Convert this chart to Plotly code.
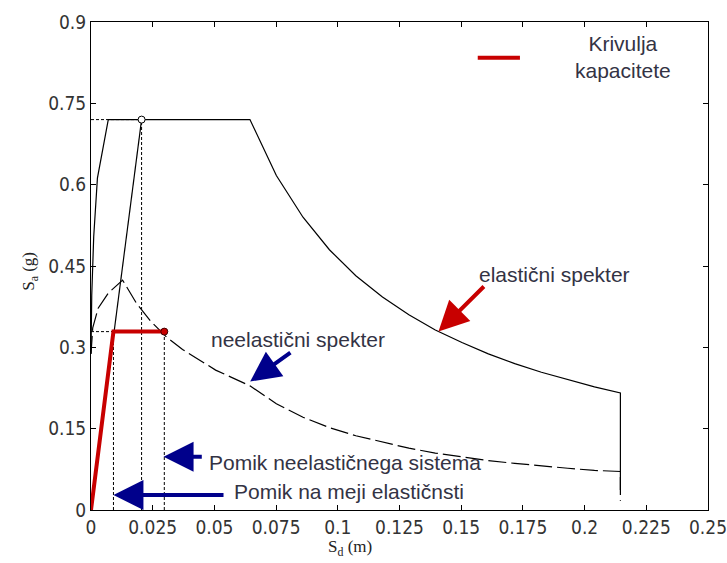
import plotly.graph_objects as go

# Elastic spectrum (ADRS)
el_sd = [0.0, 0.0003, 0.0011, 0.0026, 0.0070, 0.0644, 0.0751, 0.0859, 0.0966, 0.1073,
         0.1181, 0.1288, 0.1395, 0.1503, 0.1610, 0.1717, 0.1825, 0.1932, 0.2040, 0.2145, 0.2145]
el_sa = [0.288, 0.396, 0.504, 0.612, 0.720, 0.720, 0.617, 0.540, 0.480, 0.432,
         0.393, 0.360, 0.332, 0.309, 0.288, 0.270, 0.254, 0.240, 0.227, 0.216, 0.037]

# Inelastic spectrum (dashed)
in_sd = [0.0, 0.0007, 0.0029, 0.0070, 0.0128, 0.0186, 0.0244, 0.0306, 0.0371, 0.0505, 0.0644,
         0.0751, 0.0859, 0.0966, 0.1073, 0.1181, 0.1288, 0.1395, 0.1503, 0.1610, 0.1717,
         0.1825, 0.1932, 0.2040, 0.2145, 0.2145]
in_sa = [0.288, 0.336, 0.372, 0.400, 0.424, 0.380, 0.347, 0.319, 0.296, 0.258, 0.229,
         0.196, 0.171, 0.152, 0.137, 0.125, 0.114, 0.105, 0.098, 0.091, 0.086,
         0.081, 0.077, 0.073, 0.071, 0.017]

# Capacity curve (bilinear)
cap_sd = [0.0, 0.0091, 0.0297]
cap_sa = [0.0, 0.329, 0.329]

# Elastic period line
per_sd = [0.0, 0.0205]
per_sa = [0.0, 0.720]

# Dotted guide lines
guide_sd = [0.0, 0.0205, None, 0.0, 0.0091, None, 0.0091, 0.0091, None,
            0.0205, 0.0205, None, 0.0297, 0.0297]
guide_sa = [0.720, 0.720, None, 0.329, 0.329, None, 0.0, 0.329, None,
            0.0, 0.720, None, 0.0, 0.329]

x_ticks = [0, 0.025, 0.05, 0.075, 0.1, 0.125, 0.15, 0.175, 0.2, 0.225, 0.25]
x_labels = ["0", "0.025", "0.05", "0.075", "0.1", "0.125", "0.15", "0.175", "0.2", "0.225", "0.25"]
y_ticks = [0, 0.15, 0.3, 0.45, 0.6, 0.75, 0.9]
y_labels = ["0", "0.15", "0.3", "0.45", "0.6", "0.75", "0.9"]

RED = "#c80000"
NAVY = "#00008b"
TXT = "#333344"
TICKFONT = dict(family="Liberation Sans Narrow, Arial Narrow, DejaVu Sans Condensed, Liberation Sans",
                size=19, color="#333333")
ANN_FONT = dict(family="Liberation Sans, Arial, sans-serif", size=21, color=TXT)
TITLE_FONT = dict(family="Liberation Serif, Times New Roman, serif", size=17, color="#222222")

fig = go.Figure()
fig.add_trace(go.Scatter(x=guide_sd, y=guide_sa, mode="lines",
                         line=dict(color="black", width=1, dash="3px,2px"), hoverinfo="skip"))
fig.add_trace(go.Scatter(x=el_sd, y=el_sa, mode="lines",
                         line=dict(color="black", width=1.2)))
fig.add_trace(go.Scatter(x=in_sd, y=in_sa, mode="lines",
                         line=dict(color="black", width=1.2, dash="18px,5px")))
fig.add_trace(go.Scatter(x=per_sd, y=per_sa, mode="lines",
                         line=dict(color="black", width=1.2)))
fig.add_trace(go.Scatter(x=cap_sd, y=cap_sa, mode="lines",
                         line=dict(color=RED, width=4)))
fig.add_trace(go.Scatter(x=[per_sd[1]], y=[per_sa[1]], mode="markers",
                         marker=dict(symbol="circle", size=7, color="white",
                                     line=dict(color="black", width=1))))
fig.add_trace(go.Scatter(x=[cap_sd[2]], y=[cap_sa[2]], mode="markers",
                         marker=dict(symbol="circle", size=7, color=RED,
                                     line=dict(color="#400000", width=1))))

annotations = [
    # arrows
    dict(x=0.1408, y=0.329, ax=0.1598, ay=0.415, axref="x", ayref="y",
         showarrow=True, arrowhead=2, arrowsize=1.5, arrowwidth=4, arrowcolor=RED, text="", standoff=0),
    dict(x=0.0645, y=0.237, ax=0.0814, ay=0.292, axref="x", ayref="y",
         showarrow=True, arrowhead=2, arrowsize=1.5, arrowwidth=4, arrowcolor=NAVY, text="", standoff=0),
    dict(x=0.0294, y=0.0983, ax=0.0455, ay=0.0983, axref="x", ayref="y",
         showarrow=True, arrowhead=2, arrowsize=1.5, arrowwidth=4, arrowcolor=NAVY, text="", standoff=0),
    dict(x=0.0091, y=0.0277, ax=0.0543, ay=0.0277, axref="x", ayref="y",
         showarrow=True, arrowhead=2, arrowsize=1.5, arrowwidth=4, arrowcolor=NAVY, text="", standoff=0),
    # labels
    dict(x=0.188, y=0.435, text="elastični spekter", showarrow=False, font=ANN_FONT,
         xanchor="center", yanchor="middle"),
    dict(x=0.0837, y=0.315, text="neelastični spekter", showarrow=False, font=ANN_FONT,
         xanchor="center", yanchor="middle"),
    dict(x=0.0469, y=0.0867, text="Pomik neelastičnega sistema", showarrow=False, font=ANN_FONT,
         xanchor="left", yanchor="middle"),
    dict(x=0.0571, y=0.0338, text="Pomik na meji elastičnsti", showarrow=False, font=ANN_FONT,
         xanchor="left", yanchor="middle"),
    # legend text
    dict(x=0.2155, y=0.836, text="Krivulja<br>kapacitete", showarrow=False, font=ANN_FONT,
         xanchor="center", yanchor="middle", align="center"),
    # axis titles
    dict(xref="paper", yref="paper", x=-0.099, y=0.49, text="S<sub>a</sub> (g)", textangle=-90,
         showarrow=False, font=TITLE_FONT, xanchor="center", yanchor="middle"),
    dict(xref="paper", yref="paper", x=0.42, y=-0.078, text="S<sub>d</sub> (m)",
         showarrow=False, font=TITLE_FONT, xanchor="center", yanchor="middle"),
]

fig.update_layout(
    width=727, height=563,
    margin=dict(l=91, r=19, t=22, b=53),
    paper_bgcolor="white", plot_bgcolor="white",
    showlegend=False,
    annotations=annotations,
    shapes=[dict(type="line", xref="x", yref="y", x0=0.1567, x1=0.1738, y0=0.834, y1=0.834,
                 line=dict(color=RED, width=4))],
    xaxis=dict(range=[0, 0.25], tickvals=x_ticks, ticktext=x_labels, automargin=False,
               showgrid=False, zeroline=False, showline=True, linecolor="black", linewidth=1,
               mirror="ticks", ticks="inside", ticklen=5, tickcolor="black",
               tickfont=TICKFONT, ticklabeloverflow="allow"),
    yaxis=dict(range=[0, 0.9], tickvals=y_ticks, ticktext=y_labels, automargin=False,
               showgrid=False, zeroline=False, showline=True, linecolor="black", linewidth=1,
               mirror="ticks", ticks="inside", ticklen=5, tickcolor="black",
               tickfont=TICKFONT, ticklabeloverflow="allow"),
)

fig.write_html("out.html", config={"displayModeBar": False},
               post_script="document.body.style.margin='0';document.body.style.padding='0';"
                           "document.body.style.overflow='hidden';")
